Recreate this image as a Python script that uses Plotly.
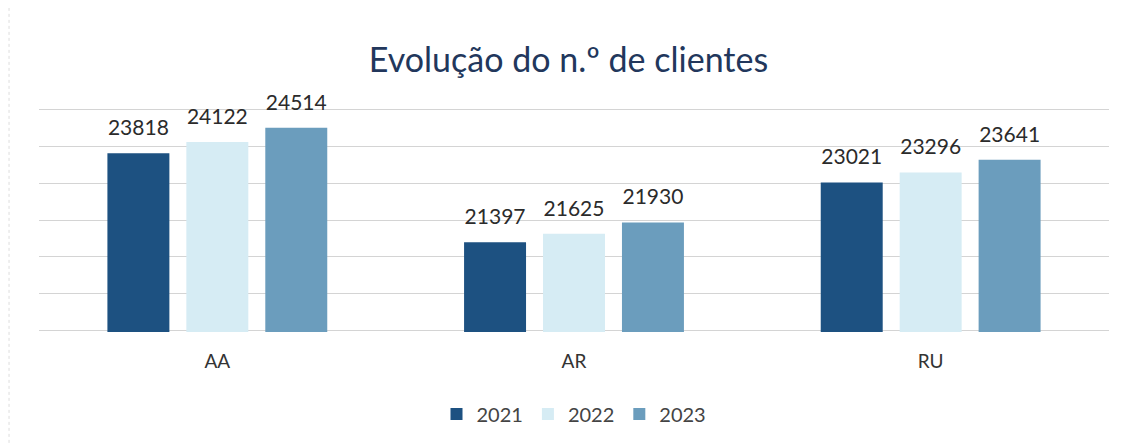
import plotly.graph_objects as go

categories = ["AA", "AR", "RU"]
years = ["2021", "2022", "2023"]
values_2021 = [23818, 21397, 23021]
values_2022 = [24122, 21625, 23296]
values_2023 = [24514, 21930, 23641]
colors = ["#1d5181", "#d6ecf4", "#6b9dbd"]

series = [values_2021, values_2022, values_2023]
FONT = "Lato, Open Sans, sans-serif"

fig = go.Figure()
for name, vals, col in zip(years, series, colors):
    fig.add_trace(go.Bar(
        x=categories, y=vals, name=name,
        marker=dict(color=col, line=dict(width=0)),
        hoverinfo="skip",
    ))
# data labels, grouped to align with bars
for name, vals in zip(years, series):
    fig.add_trace(go.Scatter(
        x=categories, y=vals, mode="markers+text", showlegend=False,
        text=[str(v) for v in vals], textposition="top center",
        textfont=dict(size=21, color="#2b2b2b", family=FONT),
        marker=dict(size=19, color="rgba(0,0,0,0)"),
        cliponaxis=False, hoverinfo="skip",
    ))

fig.update_layout(
    width=1121, height=437,
    paper_bgcolor="white", plot_bgcolor="white",
    margin=dict(l=31, r=20, t=100, b=113, autoexpand=False),
    barmode="group", bargap=0.336, bargroupgap=0.215,
    scattermode="group", scattergap=0.336,
    title=dict(text="Evolução do n.º de clientes", x=0.5, xanchor="center",
               y=0.881, yanchor="middle",
               font=dict(size=34, color="#22375c", family=FONT)),
    font=dict(family=FONT, color="#333333"),
    showlegend=True,
    legend=dict(orientation="h", x=0.5, xanchor="center", y=-0.366, yanchor="middle",
                font=dict(size=20, color="#444444"), itemwidth=30, traceorder="normal"),
    shapes=[dict(type="rect", xref="paper", yref="paper", x0=-0.028, x1=1.03, y0=-0.6, y1=1.45,
                 line=dict(color="#dddddd", width=1, dash="dot"), layer="below")],
)
fig.update_xaxes(showgrid=False, showline=False, ticks="", ticklabelstandoff=16,
                 tickfont=dict(size=19, color="#333333"))
fig.update_yaxes(range=[18950, 25050], dtick=1000, tick0=0, showgrid=True, gridcolor="#d4d4d4",
                 gridwidth=1, showticklabels=False, zeroline=False, showline=False)

fig.write_html("out.html")
